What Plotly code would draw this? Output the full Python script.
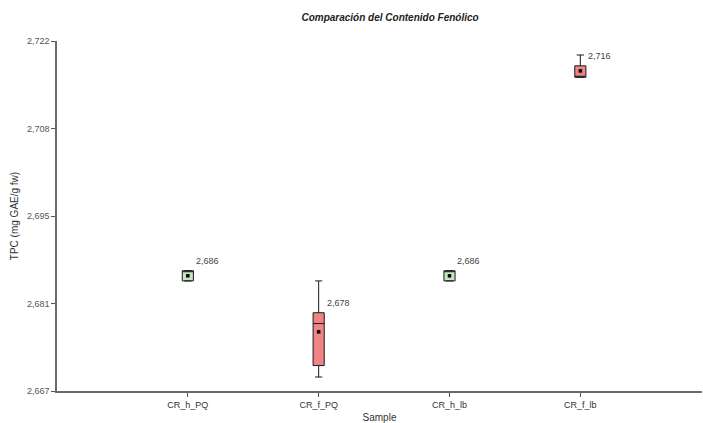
import numpy as np
import plotly.graph_objects as go

# Total phenolic content per sample (mg GAE/g fw)
samples = ["CR_h_PQ", "CR_f_PQ", "CR_h_lb", "CR_f_lb"]
q1 = [2.6843, 2.6710, 2.6843, 2.7163]
median = [2.6858, 2.6776, 2.6858, 2.7164]
q3 = [2.6859, 2.6793, 2.6859, 2.7181]
lower_fence = [2.6843, 2.6692, 2.6843, 2.7163]
upper_fence = [2.6859, 2.6843, 2.6859, 2.7198]
mean = [2.6851, 2.6763, 2.6851, 2.7173]
fill_colors = ["#c6e6c0", "#f08383", "#c6e6c0", "#f08383"]

y_tick_labels = ["2,667", "2,681", "2,695", "2,708", "2,722"]
y_min, y_max = 2.667, 2.722

FONT = "Liberation Sans, Arial, sans-serif"

fig = go.Figure()

for i, name in enumerate(samples):
    fig.add_trace(go.Box(
        x=[i],
        q1=[q1[i]], median=[median[i]], q3=[q3[i]],
        lowerfence=[lower_fence[i]], upperfence=[upper_fence[i]],
        name=name,
        width=0.085,
        whiskerwidth=0.65,
        fillcolor=fill_colors[i],
        line=dict(color="#1a1a1a", width=1),
        boxpoints=False,
        showlegend=False,
        hoverinfo="skip",
    ))

# Mean markers
fig.add_trace(go.Scatter(
    x=list(range(len(samples))), y=mean,
    mode="markers",
    marker=dict(symbol="square", size=3.5, color="black"),
    showlegend=False, hoverinfo="skip",
))

# Median value labels at the upper right of each box
for i, v in enumerate(median):
    fig.add_annotation(
        x=i, y=q3[i], xref="x", yref="y",
        text=f"{v:.3f}".replace(".", ","),
        showarrow=False, xanchor="left", yanchor="bottom",
        xshift=6, yshift=3,
        font=dict(family=FONT, size=9, color="#444"),
    )

fig.update_layout(
    width=703, height=423,
    margin=dict(l=57, r=1, t=41, b=32),
    paper_bgcolor="white", plot_bgcolor="white",
    font=dict(family=FONT, color="#333"),
    title=dict(
        text="Comparación del Contenido Fenólico",
        x=363 / 703, xanchor="center", xref="paper",
        y=1 - 17 / 423, yanchor="middle", yref="container",
        font=dict(family=FONT, size=10, color="#222", weight="bold", style="italic"),
    ),
)

fig.update_xaxes(
    range=[-1, 3.93],
    tickvals=list(range(len(samples))), ticktext=samples,
    showline=True, linecolor="#6a6a6a", linewidth=1.5,
    ticks="outside", ticklen=4, tickcolor="#555",
    showgrid=False, zeroline=False,
    tickfont=dict(family=FONT, size=9, color="#333"),
    title=dict(text="Sample", font=dict(family=FONT, size=10, color="#333"), standoff=5),
)

fig.update_yaxes(
    range=[y_min, y_max],
    tickvals=list(np.linspace(y_min, y_max, len(y_tick_labels))),
    ticktext=y_tick_labels,
    showline=True, linecolor="#6a6a6a", linewidth=1.5,
    ticks="outside", ticklen=4, tickcolor="#555",
    showgrid=False, zeroline=False,
    tickfont=dict(family=FONT, size=9, color="#555"),
    title=dict(text="TPC (mg GAE/g fw)", font=dict(family=FONT, size=10, color="#333"), standoff=6),
)

fig.write_html("out.html")
